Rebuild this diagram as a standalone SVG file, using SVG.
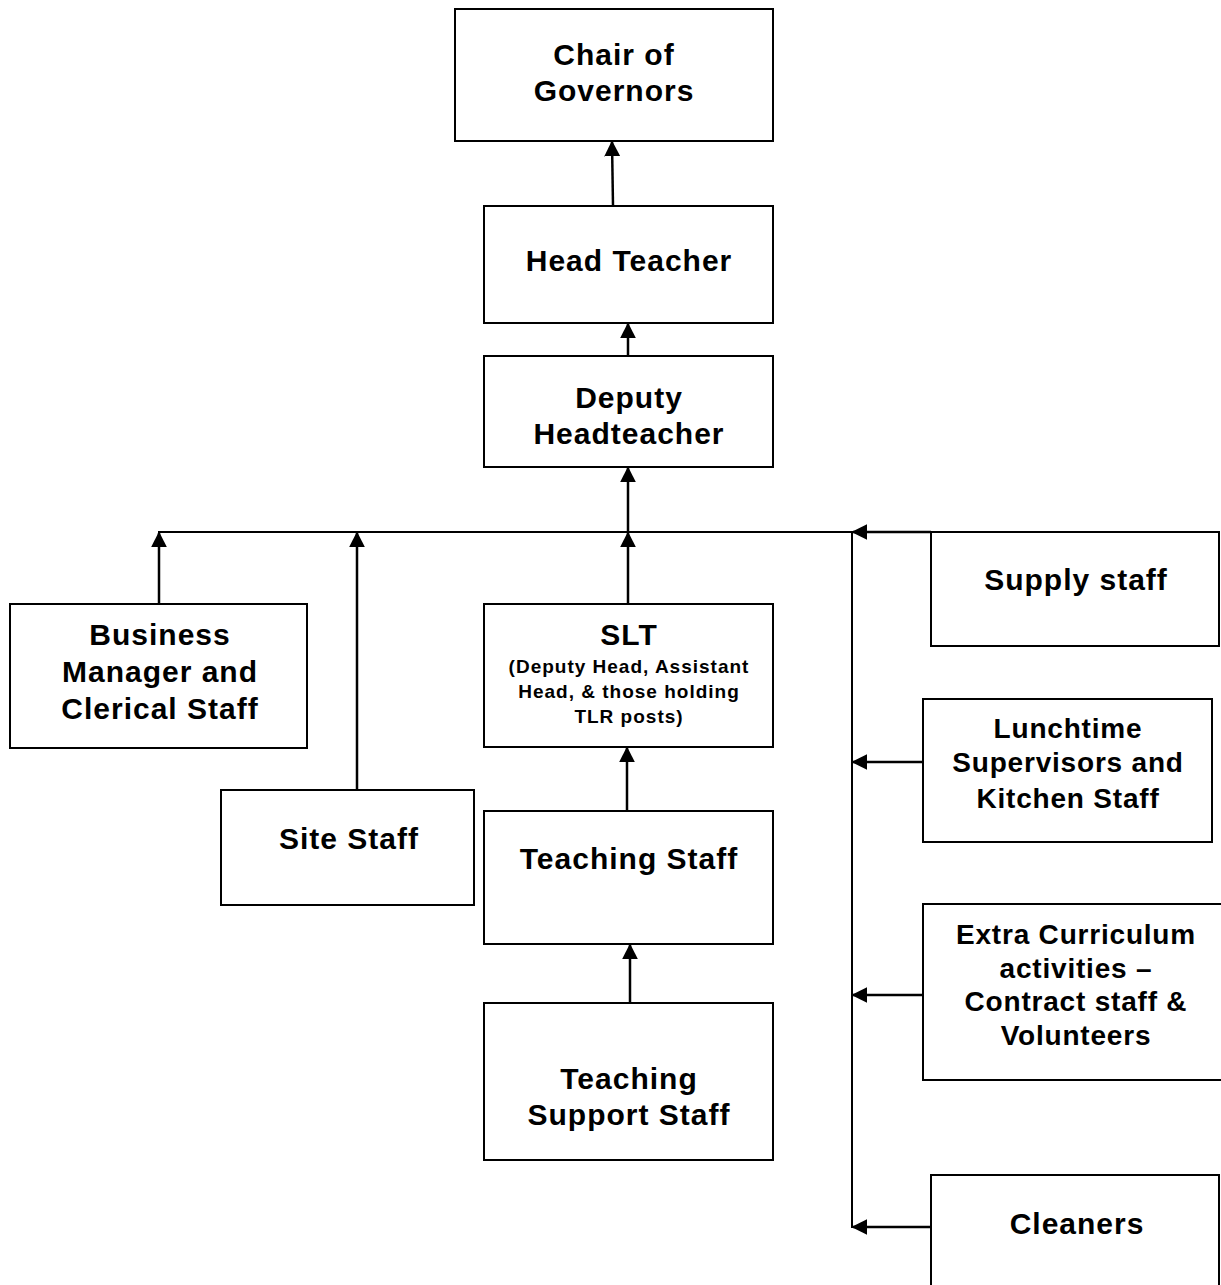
<svg xmlns="http://www.w3.org/2000/svg" width="1221" height="1285" viewBox="0 0 1221 1285">
<style>
.box{fill:#fff;stroke:#000;stroke-width:2}
.t{font-family:"Liberation Sans",Arial,sans-serif;font-weight:bold;font-size:30px;letter-spacing:1px;text-anchor:middle;fill:#000}
.m{font-size:28px;letter-spacing:0.8px}
.s{font-size:19px;letter-spacing:1px}
.c{stroke:#000;stroke-width:2.5;fill:none}
</style>
<defs>
<marker id="ah" viewBox="0 0 10 10" refX="9" refY="5" markerWidth="16" markerHeight="16" markerUnits="userSpaceOnUse" orient="auto">
<path d="M0,0 L10,5 L0,10 z" fill="#000"/>
</marker>
</defs>
<rect width="1221" height="1285" fill="#fff"/>
<g id="connectors">
<line class="c" x1="613" y1="206" x2="612" y2="142" marker-end="url(#ah)"/>
<line class="c" x1="628" y1="356" x2="628" y2="324" marker-end="url(#ah)"/>
<line class="c" x1="628" y1="532" x2="628" y2="468" marker-end="url(#ah)"/>
<line class="c" x1="628" y1="604" x2="628" y2="533" marker-end="url(#ah)"/>
<line class="c" x1="159" y1="604" x2="159" y2="533" marker-end="url(#ah)"/>
<line class="c" x1="357" y1="790" x2="357" y2="533" marker-end="url(#ah)"/>
<line class="c" x1="627" y1="811" x2="627" y2="748" marker-end="url(#ah)"/>
<line class="c" x1="630" y1="1003" x2="630" y2="945" marker-end="url(#ah)"/>
<line x1="158" y1="532" x2="931" y2="532" stroke="#000" stroke-width="2"/>
<line x1="852" y1="532" x2="852" y2="1228" stroke="#000" stroke-width="2"/>
<line class="c" x1="931" y1="532" x2="853" y2="532" marker-end="url(#ah)"/>
<line class="c" x1="923" y1="762" x2="853" y2="762" marker-end="url(#ah)"/>
<line class="c" x1="923" y1="995" x2="853" y2="995" marker-end="url(#ah)"/>
<line class="c" x1="931" y1="1227" x2="853" y2="1227" marker-end="url(#ah)"/>
</g>
<g id="chair"><rect class="box" x="455" y="9" width="318" height="132"/>
<text class="t" x="614" y="65">Chair of</text><text class="t" x="614" y="101">Governors</text></g>
<g id="head"><rect class="box" x="484" y="206" width="289" height="117"/>
<text class="t" x="629" y="271">Head Teacher</text></g>
<g id="deputy"><rect class="box" x="484" y="356" width="289" height="111"/>
<text class="t" x="629" y="408">Deputy</text><text class="t" x="629" y="444">Headteacher</text></g>
<g id="business"><rect class="box" x="10" y="604" width="297" height="144"/>
<text class="t" x="160" y="645">Business</text><text class="t" x="160" y="682">Manager and</text><text class="t" x="160" y="719">Clerical Staff</text></g>
<g id="site"><rect class="box" x="221" y="790" width="253" height="115"/>
<text class="t" x="349" y="849">Site Staff</text></g>
<g id="slt"><rect class="box" x="484" y="604" width="289" height="143"/>
<text class="t" x="629" y="645">SLT</text>
<text class="t s" x="629" y="673">(Deputy Head, Assistant</text>
<text class="t s" x="629" y="698">Head, &amp; those holding</text>
<text class="t s" x="629" y="723">TLR posts)</text></g>
<g id="teaching"><rect class="box" x="484" y="811" width="289" height="133"/>
<text class="t" x="629" y="869">Teaching Staff</text></g>
<g id="support"><rect class="box" x="484" y="1003" width="289" height="157"/>
<text class="t" x="629" y="1089">Teaching</text><text class="t" x="629" y="1125">Support Staff</text></g>
<g id="supply"><rect class="box" x="931" y="532" width="288" height="114"/>
<text class="t" x="1076" y="590">Supply staff</text></g>
<g id="lunch"><rect class="box" x="923" y="699" width="289" height="143"/>
<text class="t m" x="1068" y="738">Lunchtime</text><text class="t m" x="1068" y="772">Supervisors and</text><text class="t m" x="1068" y="808">Kitchen Staff</text></g>
<g id="extra"><rect class="box" x="923" y="904" width="310" height="176"/>
<text class="t m" x="1076" y="944">Extra Curriculum</text><text class="t m" x="1076" y="978">activities –</text><text class="t m" x="1076" y="1011">Contract staff &amp;</text><text class="t m" x="1076" y="1045">Volunteers</text></g>
<g id="cleaners"><rect class="box" x="931" y="1175" width="288" height="130"/>
<text class="t" x="1077" y="1234">Cleaners</text></g>
</svg>
